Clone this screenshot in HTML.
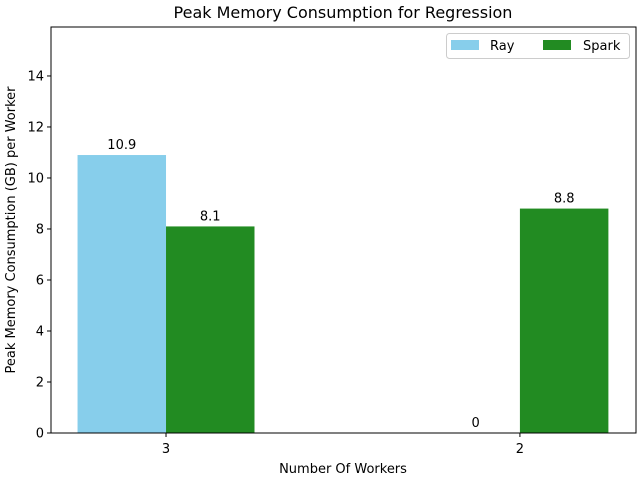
<!DOCTYPE html>
<html><head><meta charset="utf-8"><style>
body{margin:0;background:#fff;width:640px;height:480px;overflow:hidden;font-family:"Liberation Sans","DejaVu Sans",sans-serif}
svg text{font-family:"DejaVu Sans","Liberation Sans",sans-serif}
</style></head><body>
<svg id="chart" width="640" height="480">
<text x="343" y="18" font-size="16" text-anchor="middle" fill="#000">Peak Memory Consumption for Regression</text>
<text x="343" y="473" font-size="13" text-anchor="middle">Number Of Workers</text>
<text transform="translate(15,230) rotate(-90)" font-size="13" text-anchor="middle">Peak Memory Consumption (GB) per Worker</text>
<g id="marks"></g>
<rect x="51" y="27" width="585" height="406" fill="none" stroke="#000" stroke-width="1"/>
<g>
<rect x="446.5" y="33.5" width="183" height="25" rx="3" fill="#fff" stroke="#ccc"/>
<rect x="451" y="40" width="28" height="10" fill="#87ceeb"/>
<text x="490" y="50" font-size="13">Ray</text>
<rect x="543" y="40" width="28" height="10" fill="#228b22"/>
<text x="583" y="50" font-size="13">Spark</text>
</g>
</svg>
<script>
const categories = ["3","2"];
const rayValues = [10.9, 0];
const sparkValues = [8.1, 8.8];
const yTicks = [0,2,4,6,8,10,12,14];
const L=51,R=636,T=27,B=433,XMIN=-0.325,XMAX=1.328,YMAX=15.92;
const xs=v=>L+(v-XMIN)/(XMAX-XMIN)*(R-L);
const ys=v=>B-v/YMAX*(B-T);
const NS="http://www.w3.org/2000/svg";
const g=document.getElementById('marks');
function mk(t,a){const e=document.createElementNS(NS,t);for(const k in a)e.setAttribute(k,a[k]);g.appendChild(e);return e;}
const bw=0.25;
yTicks.forEach(t=>{
  const l=mk('line',{x1:L-4,x2:L,y1:ys(t),y2:ys(t),stroke:'#000'});
  
  
  const tx=mk('text',{x:L-7,y:ys(t)+4.5,'font-size':13,'text-anchor':'end'});tx.textContent=t;
  
  
});
function fmt(v){return Number.isInteger(v)?String(v):String(v);}
categories.forEach((c,i)=>{
  const l=mk('line',{x1:xs(i),x2:xs(i),y1:B,y2:B+4,stroke:'#000'});
  
  
  const tx=mk('text',{x:xs(i),y:B+20,'font-size':13,'text-anchor':'middle'});tx.textContent=c;
  
  
  [[rayValues,'#87ceeb',-bw/2,'ray'],[sparkValues,'#228b22',bw/2,'spark']].forEach(([arr,col,off,nm])=>{
    const v=arr[i],x0=xs(i+off-bw/2),x1=xs(i+off+bw/2);
    const r=mk('rect',{x:x0,y:ys(v),width:x1-x0,height:B-ys(v),fill:col});
    
    
    const lb=mk('text',{x:(x0+x1)/2,y:ys(v)-6,'font-size':13,'text-anchor':'middle'});lb.textContent=fmt(v);
    
    
  });
});
</script>
</body></html>
